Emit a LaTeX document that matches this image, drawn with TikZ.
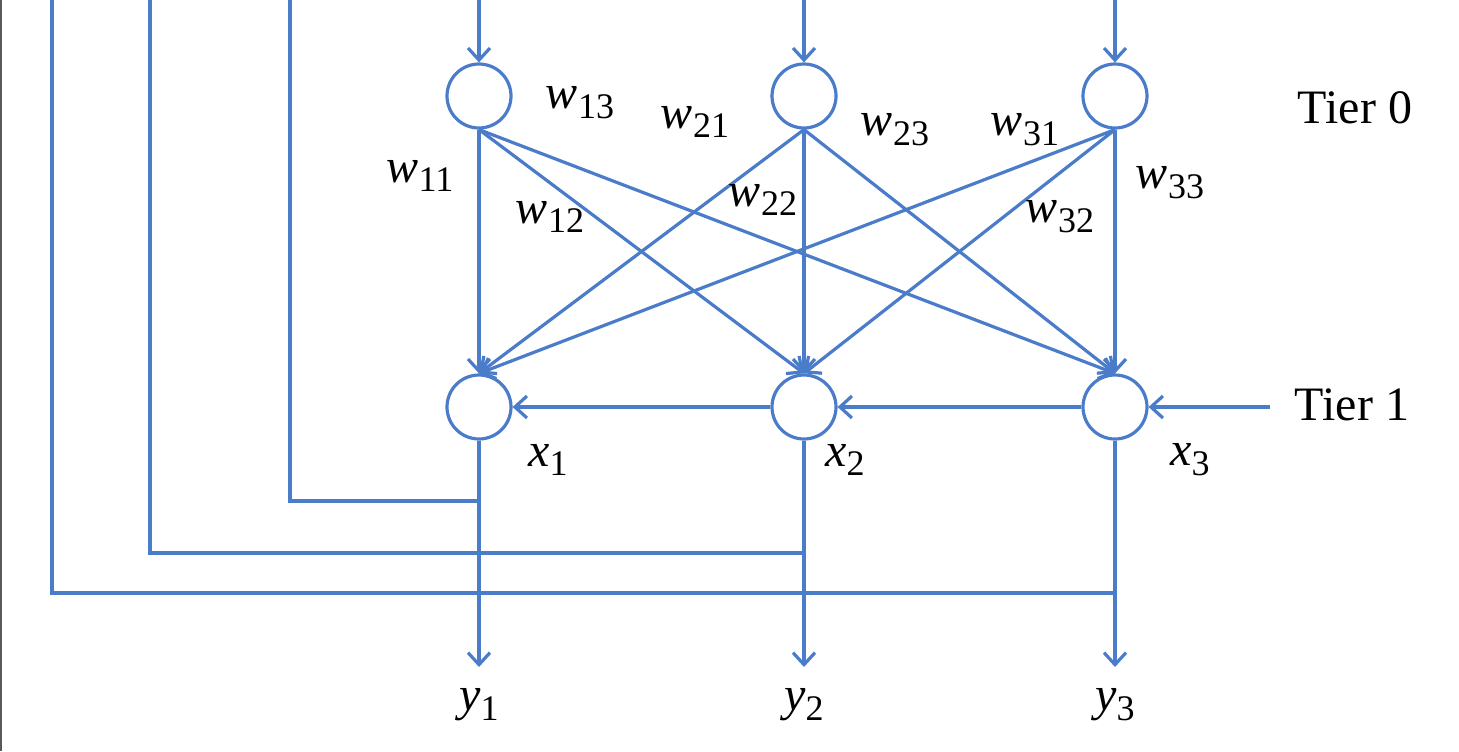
\documentclass[tikz,border=0pt]{standalone}
\usepackage{fontspec}
\setmainfont{LiberationSerif}[Extension=.ttf,UprightFont=*-Regular,ItalicFont=*-Italic,BoldFont=*-Bold]
\usepackage{tikz}
\usetikzlibrary{positioning,arrows.meta}

\definecolor{netblue}{RGB}{74,124,201}
\newcommand{\ws}[2]{\textit{#1}\raisebox{-0.45ex}{\fontsize{9}{9}\selectfont #2}}

\tikzset{
  neuron/.style={circle,draw=netblue,line width=0.8pt,minimum size=16pt,inner sep=0pt},
  wire/.style={netblue,line width=0.8pt},
  arr/.style={wire,-{Straight Barb[length=3pt,width=5.5pt]}},
  lab/.style={inner sep=0pt,font=\fontsize{12}{12}\selectfont}
}

\begin{document}
\begin{tikzpicture}[x=0.25pt,y=-0.25pt]
\useasboundingbox (0,0) rectangle (1459,751);
\draw[gray!70!black,line width=0.6pt] (1,0) -- (1,751);

% neurons of both tiers
\node[neuron] (t01) at (479,96) {};
\node[neuron] (t02) at (804,96) {};
\node[neuron] (t03) at (1115,96) {};
\node[neuron] (t11) at (479,407) {};
\node[neuron] (t12) at (804,407) {};
\node[neuron] (t13) at (1115,407) {};

% inputs from the top
\coordinate (in1) at (479,0);
\coordinate (in2) at (804,0);
\coordinate (in3) at (1115,0);
\draw[arr] (in1) -- (t01.north);
\draw[arr] (in2) -- (t02.north);
\draw[arr] (in3) -- (t03.north);

% weights tier 0 -> tier 1
\foreach \i in {1,2,3}
  \foreach \j in {1,2,3}
    \draw[arr] (t0\i.south) -- (t1\j.north);

% lateral links in tier 1
\coordinate (tin) at (1270,407);
\draw[arr] (tin) -- (t13.east);
\draw[arr] (t13.west) -- (t12.east);
\draw[arr] (t12.west) -- (t11.east);

% outputs
\node[lab] (y1) at (479,705) {\ws{y}{1}};
\node[lab] (y2) at (804,705) {\ws{y}{2}};
\node[lab] (y3) at (1115,705) {\ws{y}{3}};
\draw[arr] (t11.south) -- (479,667);
\draw[arr] (t12.south) -- (804,667);
\draw[arr] (t13.south) -- (1115,667);

% feedback to the top
\coordinate (f1) at (479,501);
\coordinate (f2) at (804,553);
\coordinate (f3) at (1115,593);
\draw[wire] (f1) -| (290,0);
\draw[wire] (f2) -| (150,0);
\draw[wire] (f3) -| (52,0);

% labels
\node[lab] (w11) at (420,176) {\ws{w}{11}};
\node[lab] (w12) at (550,217) {\ws{w}{12}};
\node[lab] (w13) at (580,103) {\ws{w}{13}};
\node[lab] (w21) at (695,122) {\ws{w}{21}};
\node[lab] (w22) at (763,200) {\ws{w}{22}};
\node[lab] (w23) at (895,130) {\ws{w}{23}};
\node[lab] (w31) at (1025,130) {\ws{w}{31}};
\node[lab] (w32) at (1060,217) {\ws{w}{32}};
\node[lab] (w33) at (1170,183) {\ws{w}{33}};
\node[lab] (x1) at (548,460) {\ws{x}{1}};
\node[lab] (x2) at (845,460) {\ws{x}{2}};
\node[lab] (x3) at (1190,460) {\ws{x}{3}};
\node[lab] (tier0) at (1355,108) {Tier 0};
\node[lab] (tier1) at (1352,405) {Tier 1};
\end{tikzpicture}
\end{document}
